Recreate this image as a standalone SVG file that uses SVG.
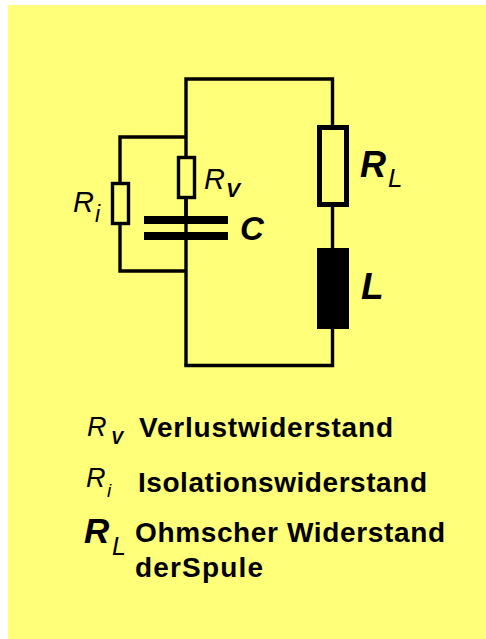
<svg xmlns="http://www.w3.org/2000/svg" width="486" height="639" viewBox="0 0 486 639">
<style>
.w{fill:none;stroke:#000;stroke-width:3.4}
.r{fill:#ffff79;stroke:#000;stroke-width:3.4}
.f{fill:#000}
text{font-family:"Liberation Sans",Arial,sans-serif;fill:#000}
.i{font-style:italic}
.b{font-weight:bold}
.t{font-weight:bold;font-size:28px}
</style>
<rect x="0" y="0" width="486" height="639" fill="#fff"/>
<rect x="8" y="5" width="478" height="634" fill="#ffff79"/>
<g id="connectors">
<path class="w" d="M186 365.500V79H332.500V127"/>
<path class="w" d="M120 182V137H186"/>
<path class="w" d="M120 225V271H186"/>
<path class="w" d="M186 199V218"/>
<path class="w" d="M332.500 207V248"/>
<path class="w" d="M332.500 329V365.500H184.300"/>
</g>
<g id="node-ri"><rect class="r" x="112.500" y="183.500" width="16" height="40"/><text class="i" x="73" y="212" font-size="29">R</text><text class="i" x="95" y="222" font-size="23">i</text></g>
<g id="node-rv"><rect class="r" x="178.500" y="157.500" width="16" height="40"/><text class="i" x="204" y="189" font-size="29">R</text><text class="i b" x="226" y="197" font-size="21">V</text></g>
<g id="node-c"><rect class="f" x="144" y="216" width="84" height="8"/><rect class="f" x="144" y="232" width="84" height="8"/><text class="i b" x="240" y="240" font-size="33">C</text></g>
<g id="node-rl"><rect x="319.500" y="127.500" width="27" height="77" fill="#ffff79" stroke="#000" stroke-width="5"/><text class="i b" x="360" y="177" font-size="36">R</text><text class="i" x="388" y="187" font-size="26">L</text></g>
<g id="node-l"><rect class="f" x="317" y="248" width="32" height="81"/><text class="i b" x="361" y="299" font-size="37">L</text></g>
<g id="legend-rv"><text class="i" x="87" y="436" font-size="27">R</text><text class="i b" x="111" y="444" font-size="18">V</text><text class="t" x="139" y="437" textLength="254" lengthAdjust="spacing">Verlustwiderstand</text></g>
<g id="legend-ri"><text class="i" x="86" y="487" font-size="27">R</text><text class="i" x="107" y="497" font-size="19">i</text><text class="t" x="138" y="492" textLength="289" lengthAdjust="spacing">Isolationswiderstand</text></g>
<g id="legend-rl"><text class="i b" x="84" y="543" font-size="35">R</text><text class="i" x="112" y="555" font-size="25">L</text><text class="t" x="135" y="542" textLength="310" lengthAdjust="spacing">Ohmscher Widerstand</text><text class="t" x="135" y="577" textLength="128" lengthAdjust="spacing">derSpule</text></g>
</svg>
